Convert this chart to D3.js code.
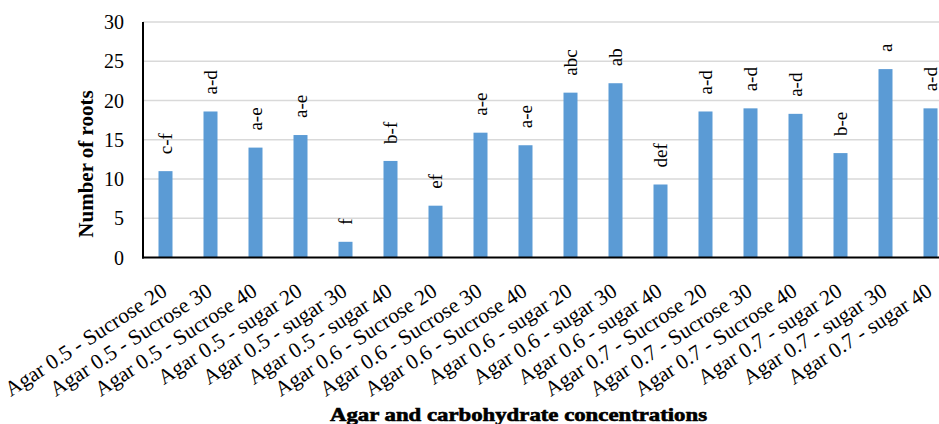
<!DOCTYPE html>
<html><head><meta charset="utf-8">
<script src="https://cdn.jsdelivr.net/npm/d3@7"></script>
<style>body{margin:0;background:#fff} svg text{font-family:"Liberation Serif",serif;}</style>
</head><body><svg id="c" width="939" height="424" style="font-family:'Liberation Serif',serif"></svg>
<script>
const categories = ["Agar 0.5 - Sucrose 20","Agar 0.5 - Sucrose 30","Agar 0.5 - Sucrose 40","Agar 0.5 - sugar 20","Agar 0.5 - sugar 30","Agar 0.5 - sugar 40","Agar 0.6 - Sucrose 20","Agar 0.6 - Sucrose 30","Agar 0.6 - Sucrose 40","Agar 0.6 - sugar 20","Agar 0.6 - sugar 30","Agar 0.6 - sugar 40","Agar 0.7 - Sucrose 20","Agar 0.7 - Sucrose 30","Agar 0.7 - Sucrose 40","Agar 0.7 - sugar 20","Agar 0.7 - sugar 30","Agar 0.7 - sugar 40"];
const values = [11, 18.6, 14, 15.6, 2, 12.3, 6.6, 15.9, 14.3, 21, 22.2, 9.3, 18.6, 19, 18.3, 13.3, 24, 19];
const letters = ["c-f","a-d","a-e","a-e","f","b-f","ef","a-e","a-e","abc","ab","def","a-d","a-d","a-d","b-e","a","a-d"];
const yTicks = [0,5,10,15,20,25,30];

const svg = d3.select("#c");
const m = {left:143, top:22, right:953, bottom:257.5};
const x = d3.scaleBand().domain(categories).range([m.left, m.right]).paddingInner(0).paddingOuter(0);
const y = d3.scaleLinear().domain([0,30]).range([m.bottom, m.top]);
const serif = sel => sel.style("font-family", "Liberation Serif, Times New Roman, serif");

// gridlines
svg.append("g").selectAll("line").data(yTicks.filter(d=>d>0)).join("line")
  .attr("x1", m.left).attr("x2", m.right).attr("y1", d=>y(d)).attr("y2", d=>y(d))
  .attr("stroke", "#d9d9d9").attr("stroke-width", 1.5);

// bars
const bw = 14;
svg.append("g").selectAll("rect").data(values).join("rect")
  .attr("x", (d,i)=>x(categories[i]) + x.bandwidth()/2 - bw/2)
  .attr("width", bw)
  .attr("y", d=>y(d)).attr("height", d=>y(0)-y(d))
  .attr("fill", "#5b9bd5");

// letters
svg.append("g").selectAll("text").data(values).join("text")
  .attr("transform", (d,i)=>`translate(${x(categories[i]) + x.bandwidth()/2 + 6},${y(d) - 17}) rotate(-90)`)
  .attr("text-anchor", "start")
  .attr("font-size", 19)
  .attr("fill", "#000")
  .call(serif)
  .text((d,i)=>letters[i]);

// axes lines
svg.append("line").attr("x1", m.left).attr("x2", m.left).attr("y1", m.top).attr("y2", m.bottom+1)
  .attr("stroke", "#000").attr("stroke-width", 2);
svg.append("line").attr("x1", m.left-1).attr("x2", m.right).attr("y1", m.bottom).attr("y2", m.bottom)
  .attr("stroke", "#000").attr("stroke-width", 2.2);

// y tick labels
svg.append("g").selectAll("text").data(yTicks).join("text")
  .attr("x", 124).attr("y", d=>y(d)+7)
  .attr("text-anchor", "end").attr("font-size", 20).attr("fill", "#000")
  .call(serif)
  .text(d=>d);

// x tick labels
svg.append("g").selectAll("text").data(categories).join("text")
  .attr("transform", d=>`translate(${x(d) + x.bandwidth()/2 + 3},${294.5}) rotate(-33)`)
  .attr("text-anchor", "end").attr("font-size", 21.5).attr("fill", "#000")
  .call(serif)
  .text(d=>d);

// axis titles
svg.append("text")
  .attr("transform", "translate(93,164) rotate(-90)")
  .attr("text-anchor", "middle").attr("font-size", 21).attr("font-weight", "bold")
  .call(serif)
  .text("Number of roots");
svg.append("text")
  .attr("x", 330).attr("y", 421)
  .attr("textLength", 377).attr("lengthAdjust", "spacingAndGlyphs")
  .attr("font-size", 18).attr("font-weight", "bold").attr("stroke", "#000").attr("stroke-width", 0.6)
  .call(serif)
  .text("Agar and carbohydrate concentrations");
</script></body></html>
